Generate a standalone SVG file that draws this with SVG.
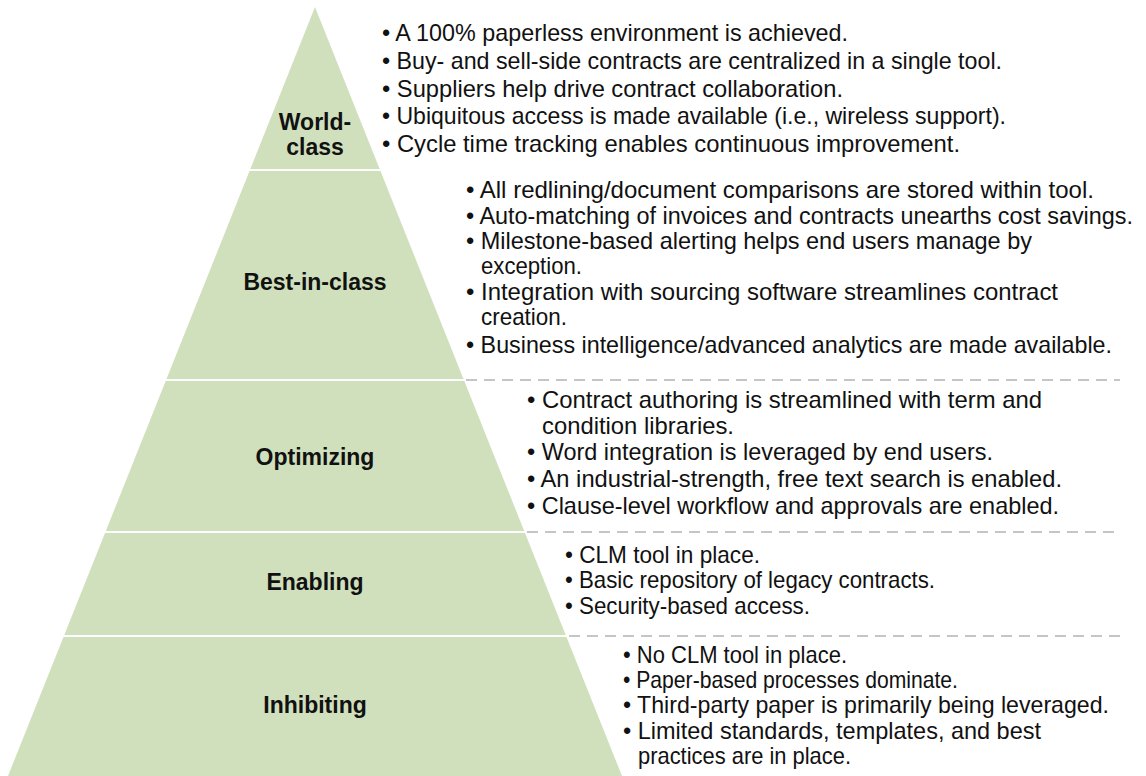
<svg xmlns="http://www.w3.org/2000/svg" width="1146" height="776" viewBox="0 0 1146 776">
<style>
.pyr{fill:#d0e0bc;}
.sep{stroke:#ffffff;stroke-width:2;}
.dash{stroke:#b3b3b3;stroke-width:1.5;stroke-dasharray:11 7;fill:none;}
.lbl{font-family:"Liberation Sans",Arial,sans-serif;font-weight:bold;font-size:23px;fill:#111;text-anchor:middle;}
.w{font-family:"Liberation Sans",Arial,sans-serif;font-size:24px;fill:#111;}
.c{font-family:"Liberation Sans",Arial,sans-serif;font-size:24px;fill:#111;}
.cs{font-size:23.3px;}
</style>
<rect width="1146" height="776" fill="#ffffff"/>
<polygon class="pyr" points="315,7 622,776 8,776"/>
<g id="separators">
<line class="sep" x1="240" y1="170" x2="390" y2="170"/>
<line class="sep" x1="150" y1="380" x2="480" y2="380"/>
<line class="sep" x1="95" y1="532" x2="535" y2="532"/>
<line class="sep" x1="50" y1="636" x2="580" y2="636"/>
<line class="dash" x1="466" y1="380" x2="1120" y2="380"/>
<line class="dash" x1="527" y1="532" x2="1120" y2="532"/>
<line class="dash" x1="569" y1="636" x2="1120" y2="636"/>
</g>
<g id="world-class">
<text class="lbl" x="315" y="130">World-</text>
<text class="lbl" x="315" y="155">class</text>
<text class="w" x="382" y="41" textLength="466" lengthAdjust="spacingAndGlyphs">• A 100% paperless environment is achieved.</text>
<text class="w" x="382" y="69" textLength="620" lengthAdjust="spacingAndGlyphs">• Buy- and sell-side contracts are centralized in a single tool.</text>
<text class="w" x="382" y="97" textLength="461" lengthAdjust="spacingAndGlyphs">• Suppliers help drive contract collaboration.</text>
<text class="w" x="382" y="124" textLength="624" lengthAdjust="spacingAndGlyphs">• Ubiquitous access is made available (i.e., wireless support).</text>
<text class="w" x="382" y="152" textLength="578" lengthAdjust="spacingAndGlyphs">• Cycle time tracking enables continuous improvement.</text>
</g>
<g id="best-in-class">
<text class="lbl" x="315" y="290">Best-in-class</text>
<text class="c" x="466" y="198" textLength="628" lengthAdjust="spacingAndGlyphs">• All redlining/document comparisons are stored within tool.</text>
<text class="c cs" x="466" y="224" textLength="667" lengthAdjust="spacingAndGlyphs">• Auto-matching of invoices and contracts unearths cost savings.</text>
<text class="c" x="466" y="249" textLength="566" lengthAdjust="spacingAndGlyphs">• Milestone-based alerting helps end users manage by</text>
<text class="c" x="481" y="274" textLength="101" lengthAdjust="spacingAndGlyphs">exception.</text>
<text class="c" x="466" y="300" textLength="592" lengthAdjust="spacingAndGlyphs">• Integration with sourcing software streamlines contract</text>
<text class="c" x="481" y="325" textLength="86" lengthAdjust="spacingAndGlyphs">creation.</text>
<text class="c" x="466" y="353" textLength="646" lengthAdjust="spacingAndGlyphs">• Business intelligence/advanced analytics are made available.</text>
</g>
<g id="optimizing">
<text class="lbl" x="315" y="465">Optimizing</text>
<text class="c" x="527" y="408" textLength="515" lengthAdjust="spacingAndGlyphs">• Contract authoring is streamlined with term and</text>
<text class="c" x="542" y="434" textLength="192" lengthAdjust="spacingAndGlyphs">condition libraries.</text>
<text class="c" x="527" y="460" textLength="466" lengthAdjust="spacingAndGlyphs">• Word integration is leveraged by end users.</text>
<text class="c" x="527" y="487" textLength="535" lengthAdjust="spacingAndGlyphs">• An industrial-strength, free text search is enabled.</text>
<text class="c" x="527" y="514" textLength="532" lengthAdjust="spacingAndGlyphs">• Clause-level workflow and approvals are enabled.</text>
</g>
<g id="enabling">
<text class="lbl" x="315" y="590">Enabling</text>
<text class="c" x="565" y="563" textLength="195" lengthAdjust="spacingAndGlyphs">• CLM tool in place.</text>
<text class="c" x="565" y="588" textLength="370" lengthAdjust="spacingAndGlyphs">• Basic repository of legacy contracts.</text>
<text class="c" x="565" y="614" textLength="245" lengthAdjust="spacingAndGlyphs">• Security-based access.</text>
</g>
<g id="inhibiting">
<text class="lbl" x="315" y="713">Inhibiting</text>
<text class="c" x="623" y="663" textLength="224" lengthAdjust="spacingAndGlyphs">• No CLM tool in place.</text>
<text class="c" x="623" y="688" textLength="335" lengthAdjust="spacingAndGlyphs">• Paper-based processes dominate.</text>
<text class="c" x="623" y="713" textLength="486" lengthAdjust="spacingAndGlyphs">• Third-party paper is primarily being leveraged.</text>
<text class="c" x="623" y="739" textLength="418" lengthAdjust="spacingAndGlyphs">• Limited standards, templates, and best</text>
<text class="c" x="638" y="764" textLength="213" lengthAdjust="spacingAndGlyphs">practices are in place.</text>
</g>
</svg>
